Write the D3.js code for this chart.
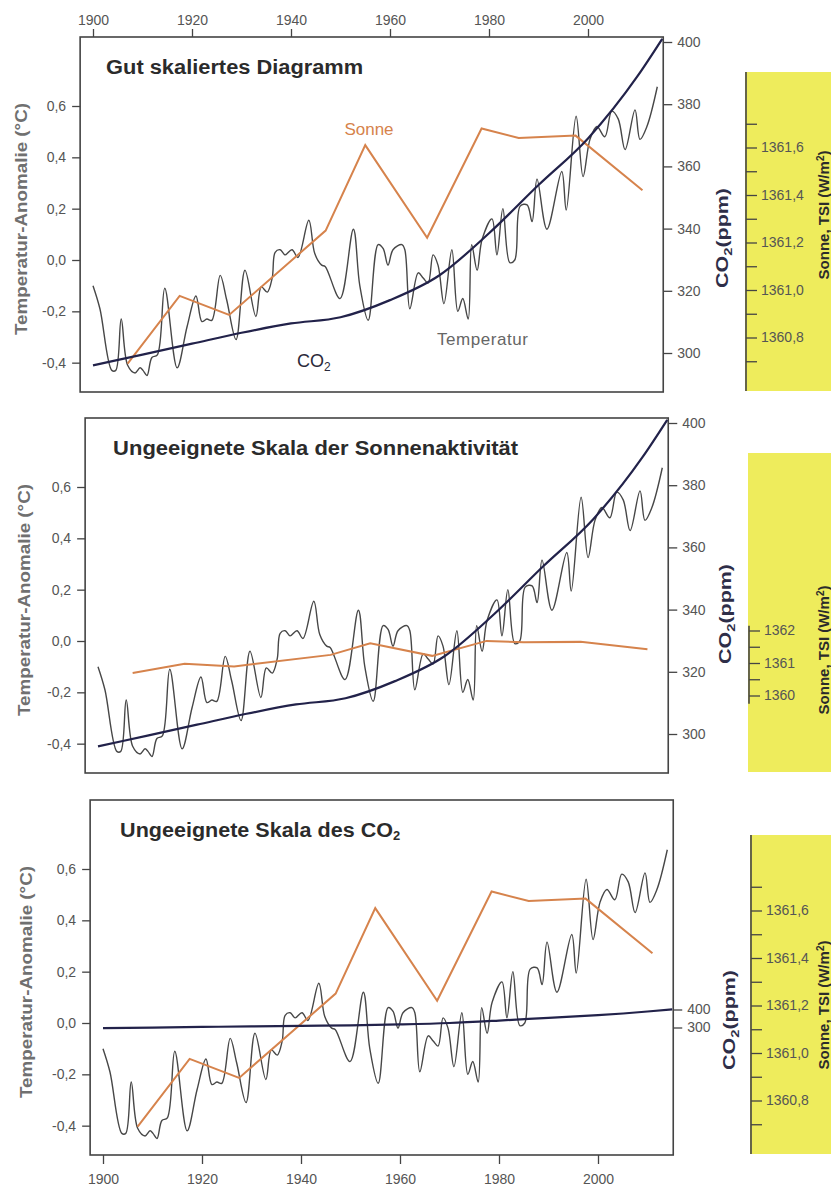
<!DOCTYPE html>
<html>
<head>
<meta charset="utf-8">
<script src="https://cdn.jsdelivr.net/npm/d3@7"></script>
<style>
  body { margin: 0; background: #fff; }
  svg { display: block; font-family: "Liberation Sans", Arial, sans-serif; }
</style>
</head>
<body>
<div id="chart"></div>
<script>
// ---- data ----
var tempYears = [1900, 1901.4, 1903.8, 1904.6, 1905.7, 1907, 1908.5, 1909.5, 1910.1, 1910.9, 1911.9, 1913,
  1914.5, 1917, 1919, 1920.8, 1922, 1923, 1924, 1925.7, 1927, 1928.9, 1930.7, 1932.9, 1934, 1935.2,
  1936.2, 1936.8, 1937.8, 1938.8, 1940.2, 1941.4, 1943.6, 1944.8, 1946.2, 1946.9, 1949.9, 1952.6,
  1953.9, 1955.6, 1957.6, 1958.6, 1959.6, 1960.6, 1962.4, 1963, 1964, 1965.7, 1966.7, 1967.7, 1968.7,
  1969.7, 1970.9, 1972.5, 1973.7, 1974.7, 1975.8, 1976.5, 1977.6, 1978.6, 1980.6, 1981.6, 1982.8,
  1984.2, 1985.2, 1986.3, 1987.7, 1988.7, 1989.7, 1991.7, 1994.7, 1995.6, 1997.6, 1999, 2000.4,
  2001.8, 2003.4, 2004.8, 2006.1, 2007.5, 2009.5, 2010.5, 2011.9, 2014];
var tempValues = [-0.10, -0.19, -0.43, -0.43, -0.23, -0.41, -0.44, -0.42, -0.43, -0.45, -0.38, -0.37,
  -0.11, -0.42, -0.26, -0.14, -0.24, -0.23, -0.235, -0.06, -0.155, -0.31, -0.04, -0.22, -0.105, -0.125,
  -0.07, 0.03, 0.04, 0.02, 0.04, 0.01, 0.155, 0.025, -0.02, -0.025, -0.15, 0.12,
  -0.10, -0.235, 0.06, 0.045, -0.02, 0.04, 0.06, 0.04, -0.19, -0.05, -0.07, -0.09, 0.02,
  -0.02, -0.17, 0.04, -0.20, -0.15, -0.23, 0.06, -0.04, 0.08, 0.16, 0.02, 0.20,
  -0.01, 0.00, 0.21, 0.215, 0.15, 0.315, 0.12, 0.345, 0.195, 0.56, 0.325, 0.47,
  0.52, 0.48, 0.58, 0.55, 0.43, 0.585, 0.47, 0.52, 0.675];

var co2Years = [1900, 1910, 1920, 1930, 1940, 1950, 1960, 1970, 1980, 1990, 2000, 2010, 2015];
var co2Values = [296, 299.5, 303, 306.5, 309.5, 311.5, 317, 325, 338.5, 354, 369, 389, 401];

var sonneYears = [1907, 1917.5, 1927.5, 1947, 1955, 1967.5, 1978.5, 1986, 1997.5, 2011];
var sonneTSI = [1360.69, 1360.975, 1360.895, 1361.25, 1361.61, 1361.22, 1361.68, 1361.64, 1361.65, 1361.42];

var yearTicks = [1900, 1920, 1940, 1960, 1980, 2000];
var tempTicks = [-0.4, -0.2, 0, 0.2, 0.4, 0.6];
var co2Ticks = [300, 320, 340, 360, 380, 400];
var co2TicksSmall = [300, 400];
var tsiMajor = [1360.8, 1361.0, 1361.2, 1361.4, 1361.6];
var tsiMinor = [1360.7, 1360.9, 1361.1, 1361.3, 1361.5, 1361.7];
var tsiMajorSmall = [1360, 1361, 1362];
var tsiMinorSmall = [1360.5, 1361.5];

var titles = ['Gut skaliertes Diagramm', 'Ungeeignete Skala der Sonnenaktivität', 'Ungeeignete Skala des CO'];

// ---- layout per panel ----
var panels = [
  { dx: 0, y0: 260, co2Small: false, tsiSmall: false, titleLen: 257, co2LabelY: 238, co2LabelX: 728, tsiLabelY: 215, boxX: 745 },
  { dx: 5, y0: 641, co2Small: false, tsiSmall: true, titleLen: 405, co2LabelY: 614, co2LabelX: 731, tsiLabelY: 650, boxX: 748 },
  { dx: 10, y0: 1023, co2Small: true, tsiSmall: false, titleLen: 280, co2LabelY: 1020, co2LabelX: 735, tsiLabelY: 1005, boxX: 750 }
];

var width = 831, height = 1187;
var fmtComma = function(f) {
  return function(d) { return d3.format(f)(d).replace('.', ',').replace('\u2212', '-'); };
};

var svg = d3.select('#chart')
  .append('svg')
  .attr('width', width)
  .attr('height', height);

var temps = tempYears.map(function(y, i) { return { year: y, v: tempValues[i] }; });
var co2 = co2Years.map(function(y, i) { return { year: y, v: co2Values[i] }; });
var sonne = sonneYears.map(function(y, i) { return { year: y, v: sonneTSI[i] }; });

panels.forEach(function(p, idx) {
  var g = svg.append('g');
  var x = d3.scaleLinear().domain([1900, 2000]).range([93 + p.dx, 588 + p.dx]);
  var yT = d3.scaleLinear().domain([0, 0.6]).range([p.y0, p.y0 - 154]);
  var yC = p.co2Small
    ? d3.scaleLinear().domain([300, 400]).range([p.y0 + 4.5, p.y0 - 13.5])
    : d3.scaleLinear().domain([300, 400]).range([p.y0 + 93, p.y0 - 218]);
  var yS = p.tsiSmall
    ? d3.scaleLinear().domain([1360, 1362]).range([p.y0 + 54.5, p.y0 - 10.5])
    : d3.scaleLinear().domain([1361, 1362]).range([p.y0 + 30, p.y0 - 207.5]);

  var left = x(1897.4), right = x(2015.2);
  var top = p.y0 - 223, bottom = p.y0 + 132;

  // yellow TSI box
  var boxTop = p.y0 - 188, boxBottom = p.y0 + 131;
  g.append('rect')
    .attr('x', p.boxX).attr('y', boxTop)
    .attr('width', width - p.boxX).attr('height', boxBottom - boxTop)
    .attr('fill', '#eeec5c');

  // frame
  g.append('rect')
    .attr('x', left).attr('y', top)
    .attr('width', right - left).attr('height', bottom - top)
    .attr('fill', 'none')
    .attr('stroke', '#444')
    .attr('stroke-width', 1.6);

  // title
  var t = g.append('text')
    .attr('x', left + 26 + idx * 2)
    .attr('y', p.y0 - 186)
    .attr('font-size', '20px')
    .attr('font-weight', 'bold')
    .attr('fill', '#2b2b2b')
    .attr('textLength', p.titleLen)
    .attr('lengthAdjust', 'spacingAndGlyphs')
    .text(titles[idx]);
  if (idx === 2) {
    t.append('tspan').attr('font-size', '12px').attr('dy', 3).text('2');
  }

  // left axis
  var la = g.append('g')
    .attr('transform', 'translate(' + left + ',0)')
    .call(d3.axisLeft(yT).tickValues(tempTicks).tickSize(8).tickPadding(6).tickFormat(fmtComma('.1f')));
  la.select('.domain').remove();

  g.append('text')
    .attr('transform', 'translate(' + (27 + p.dx / 2) + ',' + (p.y0 - 41) + ') rotate(-90)')
    .attr('text-anchor', 'middle')
    .attr('font-size', '16px')
    .attr('font-weight', 'bold')
    .attr('fill', '#707070')
    .attr('textLength', 232)
    .attr('lengthAdjust', 'spacingAndGlyphs')
    .text('Temperatur-Anomalie (°C)');

  // right CO2 axis
  var ra = g.append('g')
    .attr('transform', 'translate(' + right + ',0)')
    .call(d3.axisRight(yC).tickValues(p.co2Small ? co2TicksSmall : co2Ticks).tickSize(9).tickPadding(5).tickFormat(d3.format('d')));
  ra.select('.domain').remove();

  var cl = g.append('text')
    .attr('transform', 'translate(' + p.co2LabelX + ',' + p.co2LabelY + ') rotate(-90)')
    .attr('text-anchor', 'middle')
    .attr('font-size', '16px')
    .attr('font-weight', 'bold')
    .attr('fill', '#2e2e48')
    .attr('textLength', 100)
    .attr('lengthAdjust', 'spacingAndGlyphs');
  cl.append('tspan').text('CO');
  cl.append('tspan').attr('font-size', '11px').attr('dy', 4).text('2');
  cl.append('tspan').attr('dy', -4).text('(ppm)');

  // TSI axis
  var axX = p.boxX + 1;
  var axTop = p.tsiSmall ? yS(1362.15) : boxTop;
  var axBottom = p.tsiSmall ? yS(1359.75) : boxBottom;
  g.append('line')
    .attr('x1', axX).attr('x2', axX)
    .attr('y1', axTop).attr('y2', axBottom)
    .attr('stroke', '#444').attr('stroke-width', 1.6);
  var sa = g.append('g')
    .attr('transform', 'translate(' + axX + ',0)')
    .call(d3.axisRight(yS).tickValues(p.tsiSmall ? tsiMajorSmall : tsiMajor).tickSize(11).tickPadding(4)
      .tickFormat(p.tsiSmall ? d3.format('d') : fmtComma('.1f')));
  sa.select('.domain').remove();
  var sm = g.append('g')
    .attr('transform', 'translate(' + axX + ',0)')
    .call(d3.axisRight(yS).tickValues(p.tsiSmall ? tsiMinorSmall : tsiMinor).tickSize(11).tickFormat(''));
  sm.select('.domain').remove();

  // TSI title, kept just inside the right edge
  var tl = g.append('text')
    .attr('transform', 'translate(829,' + p.tsiLabelY + ') rotate(-90)')
    .attr('text-anchor', 'middle')
    .attr('font-size', '15px')
    .attr('font-weight', 'bold')
    .attr('fill', '#2b2b2b');
  tl.append('tspan').text('Sonne, TSI (W/m');
  tl.append('tspan').attr('font-size', '10px').attr('dy', -5).text('2');
  tl.append('tspan').attr('dy', 5).text(')');

  // axis styling
  g.selectAll('.tick line').attr('stroke', '#444').attr('stroke-width', 1.3);
  g.selectAll('.tick text').attr('fill', '#555').attr('font-size', '14px')
    .attr('font-family', '"Liberation Sans", Arial, sans-serif');

  // top / bottom year axis
  if (idx === 0) {
    var ta = g.append('g')
      .attr('transform', 'translate(0,' + top + ')')
      .call(d3.axisTop(x).tickValues(yearTicks).tickSize(8).tickPadding(4).tickFormat(d3.format('d')));
    ta.select('.domain').remove();
    ta.selectAll('.tick line').attr('stroke', '#444').attr('stroke-width', 1.3);
    ta.selectAll('.tick text').attr('fill', '#555').attr('font-size', '14px');
  }
  if (idx === 2) {
    var ba = g.append('g')
      .attr('transform', 'translate(0,' + bottom + ')')
      .call(d3.axisBottom(x).tickValues(yearTicks).tickSize(9).tickPadding(10).tickFormat(d3.format('d')));
    ba.select('.domain').remove();
    ba.selectAll('.tick line').attr('stroke', '#444').attr('stroke-width', 1.3);
    ba.selectAll('.tick text').attr('fill', '#555').attr('font-size', '14px');
  }

  // lines
  g.append('path')
    .datum(temps)
    .attr('fill', 'none')
    .attr('stroke', '#474747')
    .attr('stroke-width', 1.4)
    .attr('d', d3.line()
      .x(function(d) { return x(d.year); })
      .y(function(d) { return yT(d.v); })
      .curve(d3.curveCatmullRom.alpha(0.5)));

  g.append('path')
    .datum(sonne)
    .attr('fill', 'none')
    .attr('stroke', '#d6834c')
    .attr('stroke-width', 2)
    .attr('d', d3.line()
      .x(function(d) { return x(d.year); })
      .y(function(d) { return yS(d.v); }));

  g.append('path')
    .datum(co2)
    .attr('fill', 'none')
    .attr('stroke', '#22224a')
    .attr('stroke-width', 2.2)
    .attr('d', d3.line()
      .x(function(d) { return x(d.year); })
      .y(function(d) { return yC(d.v); })
      .curve(d3.curveMonotoneX));

  // inline labels only in first panel
  if (idx === 0) {
    g.append('text')
      .attr('x', 369).attr('y', 135)
      .attr('text-anchor', 'middle')
      .attr('font-size', '17px')
      .attr('fill', '#d6834c')
      .text('Sonne');
    var c = g.append('text')
      .attr('x', 297).attr('y', 367)
      .attr('font-size', '18px')
      .attr('fill', '#2a2a3a');
    c.append('tspan').text('CO');
    c.append('tspan').attr('font-size', '12px').attr('dy', 4).text('2');
    g.append('text')
      .attr('x', 437).attr('y', 345)
      .attr('font-size', '17px')
      .attr('fill', '#666')
      .attr('textLength', 91)
      .text('Temperatur');
  }
});
</script>
</body>
</html>
